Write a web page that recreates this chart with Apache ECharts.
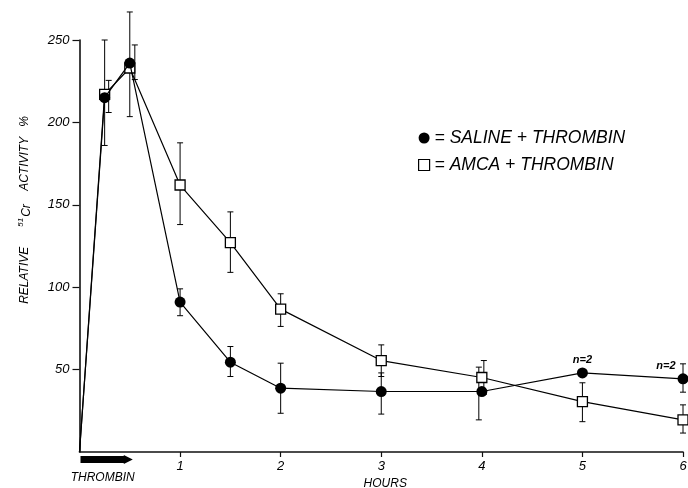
<!DOCTYPE html>
<html>
<head>
<meta charset="utf-8">
<script src="https://cdn.jsdelivr.net/npm/echarts@6/dist/echarts.min.js"></script>
<style>
  html, body { margin: 0; padding: 0; background: #fff; }
  #main { width: 688px; height: 488px; }
</style>
</head>
<body>
<div id="main"></div>
<script>
// time points (hours) and mean values
var hours = [0, 0.25, 0.5, 1, 1.5, 2, 3, 4, 5, 6];
var saline = [0, 215, 236, 91, 54.5, 38.7, 36.7, 36.7, 48, 44.4];
var amca = [0, 217, 233, 162, 127, 86.7, 55.5, 45.2, 30.6, 19.5];

// error bars (x position, low, high); null where no bar is drawn
var salineErrX = [null, 0.25, 0.5, 1, 1.5, 2, 3, 3.97, null, 6];
var salineLow = [null, 186, 203.5, 82.7, 45.8, 23.5, 23, 19.5, null, 36.3];
var salineHigh = [null, 250, 267, 99, 64, 53.9, 48, 51.5, null, 53.5];
var amcaErrX = [null, 0.29, 0.55, 1, 1.5, 2, 3, 4.02, 5, 6];
var amcaLow = [null, 206, 226, 138, 109, 76.2, 45.8, 35, 18.4, 11.5];
var amcaHigh = [null, 225.5, 247, 187.6, 145.7, 96, 65, 55.5, 42, 28.6];

// points marked n=2 on the saline curve
var nTwoHours = [5, 6];

// thrombin infusion window (hours)
var thrombinWindow = [0, 0.5];

// tick labels (the origin carries none)
var yTicks = [50, 100, 150, 200, 250];
var xTicks = [1, 2, 3, 4, 5, 6];

var SALINE_NAME = '= SALINE + THROMBIN';
var AMCA_NAME = '= AMCA + THROMBIN';
var FONT = 'Liberation Sans';

/**
 * builds line data, hiding the symbol at the origin
 */
function lineData(values, withLabels) {
  return hours.map(function (h, i) {
    var item = { value: [h, values[i]] };
    if (i === 0) {
      item.symbol = 'none';
    }
    if (withLabels && nTwoHours.indexOf(h) !== -1) {
      item.label = {
        show: true,
        formatter: 'n=2',
        position: 'top',
        offset: h === 6 ? [-17, 0] : [0, 0],
        distance: 2,
        fontFamily: FONT,
        fontStyle: 'italic',
        fontWeight: 'bold',
        fontSize: 11,
        color: '#000'
      };
    }
    return item;
  });
}

/**
 * builds error bar data from the arrays
 */
function errData(xs, lows, highs) {
  var out = [];
  xs.forEach(function (x, i) {
    if (x !== null) {
      out.push([x, lows[i], highs[i]]);
    }
  });
  return out;
}

function renderErrorBar(params, api) {
  var x = api.value(0);
  var lo = api.coord([x, api.value(1)]);
  var hi = api.coord([x, api.value(2)]);
  var cap = 3;
  var style = { stroke: '#000', lineWidth: 1 };
  return {
    type: 'group',
    children: [
      { type: 'line', shape: { x1: lo[0], y1: lo[1], x2: hi[0], y2: hi[1] }, style: style },
      { type: 'line', shape: { x1: lo[0] - cap, y1: lo[1], x2: lo[0] + cap, y2: lo[1] }, style: style },
      { type: 'line', shape: { x1: hi[0] - cap, y1: hi[1], x2: hi[0] + cap, y2: hi[1] }, style: style }
    ]
  };
}

function renderThrombin(params, api) {
  var a = api.coord([api.value(0), 0]);
  var b = api.coord([api.value(1), 0]);
  var y0 = a[1] + 4;
  var y1 = a[1] + 11;
  var mid = (y0 + y1) / 2;
  return {
    type: 'group',
    children: [
      {
        type: 'polygon',
        shape: {
          points: [
            [a[0] + 1, y0], [b[0] - 6, y0], [b[0] - 6, y0 - 1],
            [b[0] + 3, mid], [b[0] - 6, y1 + 1], [b[0] - 6, y1], [a[0] + 1, y1]
          ]
        },
        style: { fill: '#000' }
      },
      {
        type: 'text',
        x: (a[0] + b[0]) / 2 - 2,
        y: a[1] + 26,
        style: {
          text: 'THROMBIN',
          fill: '#000',
          font: 'italic 12px "' + FONT + '"',
          align: 'center',
          verticalAlign: 'middle'
        }
      }
    ]
  };
}

function paint() {
  var myChart = echarts.init(document.getElementById('main'));

  var option = {
    backgroundColor: '#fff',
    animation: false,
    grid: { left: 79.5, right: 5, top: 40, bottom: 36, outerBoundsMode: 'none', containLabel: false },
    legend: {
      orient: 'vertical',
      left: 413,
      top: 123,
      itemWidth: 11,
      itemHeight: 11,
      itemGap: 7,
      itemTextGap: 7,
      textStyle: {
        fontFamily: FONT,
        fontStyle: 'italic',
        fontSize: 17.5,
        lineHeight: 20,
        color: '#000'
      },
      data: [
        { name: SALINE_NAME, icon: 'circle', itemStyle: { color: '#000' } },
        { name: AMCA_NAME, icon: 'rect', itemStyle: { color: '#fff', borderColor: '#000', borderWidth: 1.2 } }
      ]
    },
    xAxis: {
      type: 'value',
      min: 0,
      max: xTicks[xTicks.length - 1],
      interval: 1,
      name: 'HOURS',
      nameLocation: 'middle',
      nameGap: 24,
      nameTextStyle: { fontFamily: FONT, fontStyle: 'italic', fontSize: 12, color: '#000', padding: [0, 0, 0, 8] },
      splitLine: { show: false },
      axisLine: { lineStyle: { color: '#111', width: 1.6 } },
      axisTick: { length: 5, customValues: xTicks, lineStyle: { color: '#111', width: 1.2 } },
      axisLabel: {
        margin: 8,
        customValues: xTicks,
        fontFamily: FONT,
        fontStyle: 'italic',
        fontSize: 13,
        color: '#000'
      }
    },
    yAxis: {
      type: 'value',
      min: 0,
      max: yTicks[yTicks.length - 1],
      interval: 50,
      splitLine: { show: false },
      axisLine: { show: true, lineStyle: { color: '#111', width: 1.6 } },
      axisTick: { show: true, length: 7, customValues: yTicks, lineStyle: { color: '#111', width: 1.2 } },
      axisLabel: {
        margin: 10,
        customValues: yTicks,
        fontFamily: FONT,
        fontStyle: 'italic',
        fontSize: 13,
        color: '#000'
      }
    },
    graphic: [
      {
        type: 'text',
        x: 25,
        y: 210,
        rotation: Math.PI / 2,
        style: {
          text: 'RELATIVE      {sup|51}{cr|Cr}    ACTIVITY   %',
          fill: '#000',
          font: 'italic 12px "' + FONT + '"',
          align: 'center',
          verticalAlign: 'middle',
          rich: {
            sup: { fontSize: 8, fontStyle: 'italic', fontFamily: FONT, padding: [0, 1, 9, 0] },
            cr: { fontSize: 12, fontStyle: 'italic', fontFamily: FONT, padding: [4, 0, 0, 0] }
          }
        }
      }
    ],
    series: [
      {
        name: 'salineErr',
        type: 'custom',
        renderItem: renderErrorBar,
        encode: { x: 0, y: [1, 2] },
        clip: false,
        z: 1,
        data: errData(salineErrX, salineLow, salineHigh)
      },
      {
        name: 'amcaErr',
        type: 'custom',
        renderItem: renderErrorBar,
        encode: { x: 0, y: [1, 2] },
        clip: false,
        z: 1,
        data: errData(amcaErrX, amcaLow, amcaHigh)
      },
      {
        name: 'thrombin',
        type: 'custom',
        renderItem: renderThrombin,
        encode: { x: [0, 1] },
        clip: false,
        z: 1,
        data: [thrombinWindow]
      },
      {
        name: AMCA_NAME,
        type: 'line',
        z: 3,
        symbol: 'rect',
        symbolSize: 10,
        showAllSymbol: true,
        lineStyle: { color: '#000', width: 1.2 },
        itemStyle: { color: '#fff', borderColor: '#000', borderWidth: 1.3 },
        data: lineData(amca, false)
      },
      {
        name: SALINE_NAME,
        type: 'line',
        z: 4,
        symbol: 'circle',
        symbolSize: 11,
        showAllSymbol: true,
        lineStyle: { color: '#000', width: 1.2 },
        itemStyle: { color: '#000' },
        data: lineData(saline, true)
      }
    ]
  };

  myChart.setOption(option);
}

paint();
</script>
</body>
</html>
